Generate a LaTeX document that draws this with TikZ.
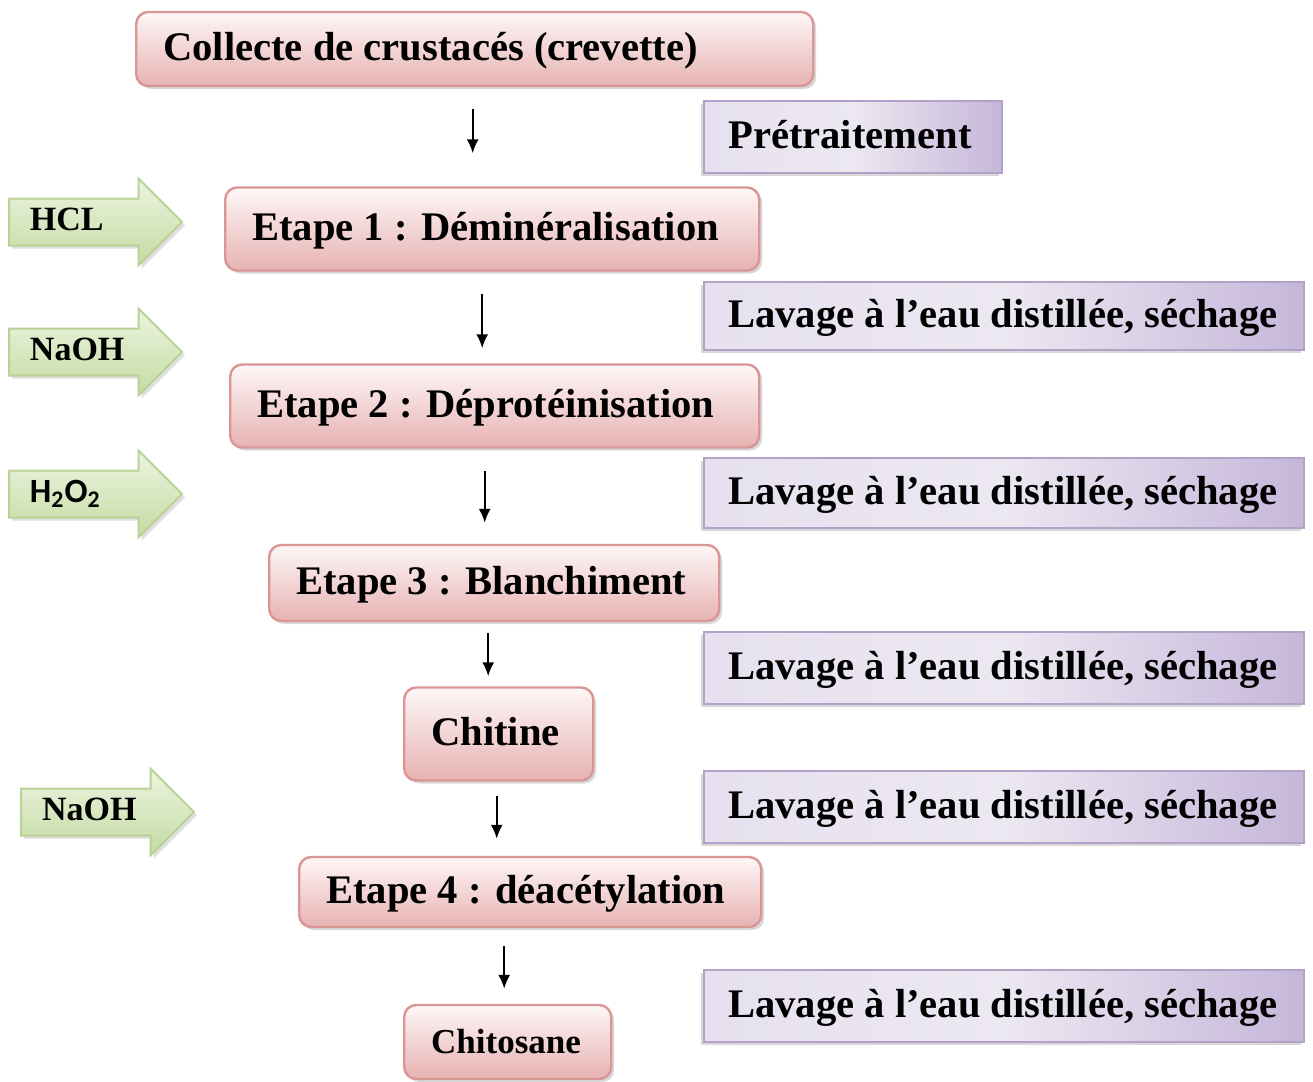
\documentclass[tikz,border=0pt]{standalone}
\usepackage{fontspec}
\setmainfont{Liberation Serif}
\newfontfamily\sansreag{Carlito}
\usetikzlibrary{arrows.meta}
\usetikzlibrary{shapes.arrows}
\usetikzlibrary{shadows}

\definecolor{rosebord}{RGB}{217,150,148}
\definecolor{rosehaut}{RGB}{254,247,247}
\definecolor{rosebas}{RGB}{231,178,178}
\definecolor{violbord}{RGB}{178,162,199}
\definecolor{violclair}{RGB}{236,232,242}
\definecolor{violfonce}{RGB}{198,183,218}
\definecolor{vertbord}{RGB}{185,210,150}
\definecolor{verthaut}{RGB}{236,244,224}
\definecolor{vertbas}{RGB}{196,219,162}

\tikzset{
  etape/.style={draw=rosebord, line width=1.2pt, rounded corners=6pt,
    top color=rosehaut, bottom color=rosebas,
    drop shadow={shadow xshift=1.5pt, shadow yshift=-1.5pt, fill=black!30},
    anchor=west, align=flush left, inner xsep=13.5pt,
    text height=15.5pt, text depth=4pt,
    execute at begin node={\hbox\bgroup}, execute at end node={\egroup},
    font=\bfseries\fontsize{20.3}{24}\selectfont},
  lavage/.style={draw=violbord, line width=1.2pt,
    left color=violclair!85!violfonce, right color=violfonce, middle color=violclair,
    drop shadow={shadow xshift=-1.5pt, shadow yshift=-1.5pt, fill=black!30},
    anchor=west, align=flush left, inner xsep=12pt, minimum height=36pt,
    text height=15.5pt, text depth=4pt,
    execute at begin node={\hbox\bgroup}, execute at end node={\egroup},
    font=\bfseries\fontsize{20.3}{24}\selectfont},
  reactif/.style={single arrow, draw=vertbord, line width=1pt,
    top color=verthaut, bottom color=vertbas,
    single arrow head extend=10pt, anchor=tail,
    drop shadow={shadow xshift=1.5pt, shadow yshift=-1.5pt, fill=black!25},
    text width=53.75pt, align=flush left, inner xsep=10pt,
    text height=11pt, text depth=3pt, inner ysep=4.25pt,
    font=\bfseries\fontsize{17}{20}\selectfont},
  flow/.style={-{Latex[length=7pt,width=6pt]}, line width=1pt}
}

\begin{document}
\begin{tikzpicture}[x=0.5pt,y=-0.5pt]
	\useasboundingbox (0,0) rectangle (1313,1082);

	% chaine principale
	\node[etape, text width=311.5pt, minimum height=37pt] (collecte) at (135,49) {Collecte de crustacés (crevette)};
	\node[etape, text width=240pt, minimum height=41.5pt] (etape1) at (224,229) {Etape 1 : Déminéralisation};
	\node[etape, text width=237.5pt, minimum height=41.5pt] (etape2) at (229,406) {Etape 2 : Déprotéinisation};
	\node[etape, text width=198pt, minimum height=38pt] (etape3) at (268,583) {Etape 3 : Blanchiment};
	\node[etape, text width=67.5pt, minimum height=46.5pt] (chitine) at (403,734) {Chitine};
	\node[etape, text width=204pt, minimum height=35pt] (etape4) at (298,892) {Etape 4 : déacétylation};
	\node[etape, text width=76.5pt, minimum height=37pt, font=\bfseries\fontsize{17.5}{21}\selectfont] (chitosane) at (403,1042) {Chitosane};

	% traitements
	\node[lavage, text width=125pt] (pretrait) at (703,137) {Prétraitement};
	\node[lavage, text width=276pt, minimum height=34pt] (lavage1) at (703,316) {Lavage à l’eau distillée, séchage};
	\node[lavage, text width=276pt, minimum height=35pt] (lavage2) at (703,493) {Lavage à l’eau distillée, séchage};
	\node[lavage, text width=276pt] (lavage3) at (703,668) {Lavage à l’eau distillée, séchage};
	\node[lavage, text width=276pt] (lavage4) at (703,807) {Lavage à l’eau distillée, séchage};
	\node[lavage, text width=276pt] (lavage5) at (703,1006) {Lavage à l’eau distillée, séchage};

	% reactifs
	\node[reactif] (hcl) at (8,222) {HCL};
	\node[reactif] (naoh1) at (8,352) {NaOH};
	\node[reactif, font=\sansreag\bfseries\fontsize{17}{20}\selectfont] (hdeuxo) at (8,494) {H\textsubscript{2}O\textsubscript{2}};
	\node[reactif] (naoh2) at (20,812) {NaOH};

	% fleches
	\draw[flow, shorten <=11pt, shorten >=16.5pt] ([xshift=-1pt]collecte.south) -- ([xshift=-1pt]collecte.south |- etape1.north);
	\draw[flow, shorten <=11pt, shorten >=7.5pt] ([xshift=-5pt]etape1.south) -- ([xshift=-5pt]etape1.south |- etape2.north);
	\draw[flow, shorten <=11pt, shorten >=10.5pt] ([xshift=-5pt]etape2.south) -- ([xshift=-5pt]etape2.south |- etape3.north);
	\draw[flow, shorten <=5.5pt, shorten >=5pt] ([xshift=-3pt]etape3.south) -- ([xshift=-3pt]etape3.south |- chitine.north);
	\draw[flow, shorten <=7pt, shorten >=8.5pt] ([xshift=-1pt]chitine.south) -- ([xshift=-1pt]chitine.south |- etape4.north);
	\draw[flow, shorten <=9pt, shorten >=7.5pt] ([xshift=-13pt]etape4.south) -- ([xshift=-13pt]etape4.south |- chitosane.north);
\end{tikzpicture}
\end{document}
